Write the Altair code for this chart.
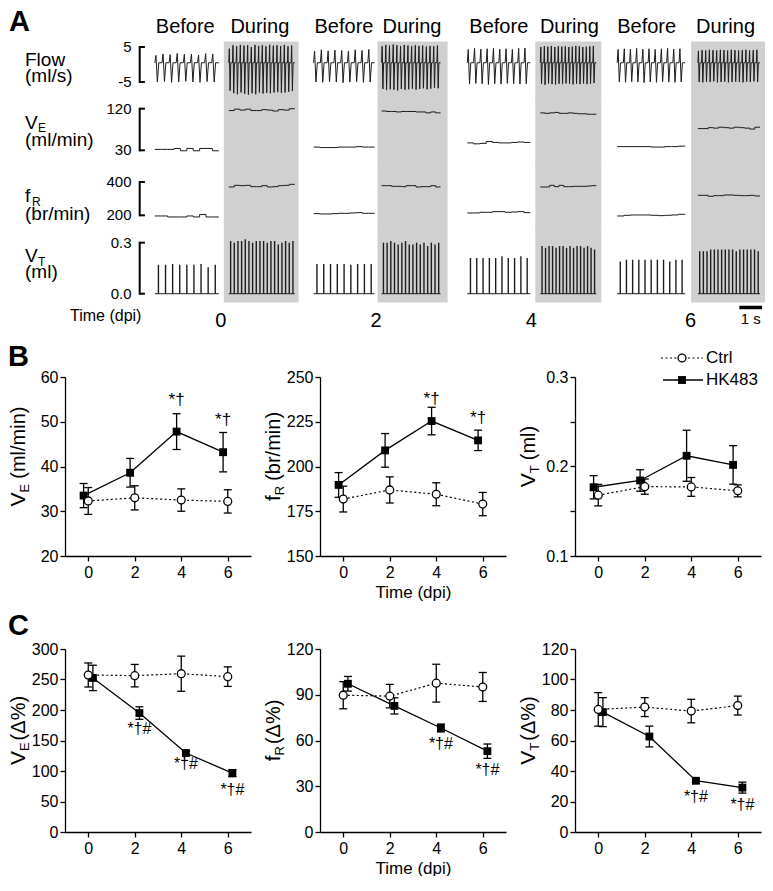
import altair as alt
import pandas as pd

FONT = "Liberation Sans"
GRAY = "#d0d0d0"
INK = "#1c1c1c"

# ------------------------------------------------------------------ panel A data
seg_label = ["Before", "During"] * 4
trace_start = [0.70, 3.96, 7.70, 10.70, 14.48, 17.70, 21.09, 24.65]   # s
trace_end = [3.52, 6.87, 10.39, 13.30, 17.26, 20.17, 24.09, 27.39]    # s
header_x = [2.04, 5.33, 9.04, 12.04, 15.87, 18.98, 22.39, 25.87]
gray_start = [3.74, 10.52, 17.48, 24.35]
gray_end = [7.04, 13.61, 20.39, 27.61]
day_labels = ["0", "2", "4", "6"]
day_x = [3.61, 10.46, 17.30, 24.33]
scalebar_s = [26.48, 27.48]

flow_peak = [
    [2.6, 3.0, 2.8, 3.2, 2.9, 3.0, 2.7, 3.1, 3.0],
    [4.5, 5.5, 5.2, 5.6, 5.4, 5.5, 5.0, 5.6, 5.3, 5.5, 5.2, 5.6, 5.4, 5.5, 5.3, 5.6, 5.2, 5.4],
    [3.8, 4.2, 3.9, 4.1, 4.0, 3.8, 4.2, 4.0, 4.3],
    [5.2, 5.6, 5.4, 5.7, 5.5, 5.3, 5.6, 5.4, 5.2, 5.5, 5.3, 5.4, 5.1, 5.3, 5.2, 5.4],
    [4.3, 4.6, 4.4, 4.5, 4.6, 4.4, 4.5, 4.3, 4.6, 4.7],
    [5.0, 5.2, 5.1, 5.3, 5.0, 5.2, 5.1, 5.2, 5.0, 5.1, 5.3, 5.2, 5.0, 5.1, 5.2, 5.3],
    [4.3, 4.5, 4.4, 4.6, 4.4, 4.5, 4.3, 4.5, 4.6, 4.4, 4.5],
    [3.9, 4.1, 4.0, 4.2, 4.1, 4.0, 4.2, 4.1, 4.0, 4.2, 4.1, 4.0, 4.1, 4.2, 4.0, 4.1, 4.2],
]
flow_trough = [
    [-5.0, -4.9, -5.1, -5.0, -4.8, -5.0, -5.1, -4.9, -5.0],
    [-7.5, -8.2, -8.5, -8.0, -8.4, -8.6, -8.2, -8.5, -8.0, -8.3, -8.1, -8.2, -8.0, -7.9, -8.1, -8.0, -7.8, -7.6],
    [-5.0, -5.1, -4.9, -5.0, -5.2, -5.0, -4.9, -5.1, -5.0],
    [-7.0, -7.3, -7.1, -7.2, -7.4, -7.0, -7.2, -7.1, -6.9, -7.2, -7.0, -6.8, -7.1, -6.9, -6.7, -6.8],
    [-5.6, -5.4, -5.5, -5.7, -5.5, -5.6, -5.4, -5.5, -5.6, -5.5],
    [-5.5, -5.8, -5.4, -5.6, -5.7, -5.5, -5.6, -5.4, -5.5, -5.7, -5.5, -5.6, -5.4, -5.6, -5.5, -5.3],
    [-5.0, -5.1, -4.9, -5.0, -5.2, -5.0, -5.1, -4.9, -5.0, -5.1, -5.0],
    [-5.0, -5.1, -4.9, -5.0, -4.8, -5.1, -5.0, -4.9, -5.1, -5.0, -4.9, -5.0, -5.1, -4.9, -5.0, -4.8, -5.0],
]
ve_steps = [
    [32, 32, 32, 34, 29, 34, 29, 34, 34, 29],
    [116, 119, 117, 119, 116, 116, 118, 117, 115, 118, 117, 120],
    [37, 36, 36, 36, 37, 37, 37, 38, 37, 37],
    [115, 114, 114, 113, 114, 114, 114, 113, 113, 111, 113, 111],
    [46, 44, 45, 49, 47, 46, 46, 47, 48, 47],
    [111, 110, 111, 112, 110, 110, 111, 110, 109, 109, 108, 108],
    [38, 38, 38, 38, 38, 37, 37, 38, 38, 39],
    [77, 77, 79, 78, 80, 79, 78, 80, 79, 78, 76, 80],
]
fr_steps = [
    [196, 196, 190, 190, 190, 196, 190, 205, 190, 190],
    [370, 380, 378, 380, 372, 372, 378, 370, 372, 378, 380, 386],
    [210, 208, 208, 210, 212, 212, 214, 216, 212, 212],
    [378, 378, 374, 374, 372, 378, 378, 370, 372, 372, 378, 370],
    [214, 214, 218, 218, 222, 222, 218, 220, 222, 216],
    [370, 370, 380, 372, 380, 372, 372, 374, 374, 374, 376, 378],
    [196, 200, 202, 202, 202, 200, 198, 200, 202, 206],
    [320, 320, 314, 318, 318, 322, 322, 320, 318, 318, 320, 316],
]
vt_peak = [
    [0.17, 0.17, 0.175, 0.17, 0.17, 0.17, 0.175, 0.155, 0.17],
    [0.31, 0.30, 0.31, 0.31, 0.32, 0.31, 0.30, 0.31, 0.31, 0.31, 0.30, 0.31, 0.31, 0.29, 0.30, 0.31, 0.30, 0.31],
    [0.175, 0.175, 0.175, 0.175, 0.175, 0.17, 0.175, 0.175, 0.175],
    [0.30, 0.30, 0.31, 0.30, 0.29, 0.30, 0.31, 0.29, 0.29, 0.30, 0.29, 0.30, 0.28, 0.30, 0.29, 0.30],
    [0.21, 0.21, 0.21, 0.21, 0.21, 0.22, 0.21, 0.21, 0.22, 0.21],
    [0.28, 0.27, 0.28, 0.28, 0.27, 0.28, 0.28, 0.27, 0.28, 0.27, 0.28, 0.28, 0.27, 0.28, 0.27, 0.26],
    [0.19, 0.20, 0.20, 0.20, 0.20, 0.20, 0.20, 0.20, 0.19, 0.20, 0.20],
    [0.25, 0.25, 0.25, 0.26, 0.26, 0.26, 0.26, 0.26, 0.26, 0.26, 0.25, 0.26, 0.26, 0.26, 0.26, 0.26, 0.25],
]
bracket_lo = [-5, 30, 200, 0.0]
bracket_hi = [5, 120, 400, 0.3]
bracket_lo_lab = ["-5", "30", "200", "0.0"]
bracket_hi_lab = ["5", "120", "400", "0.3"]
row_ydom = [[-9.86, 6.43], [-6.1, 141.0], [111.7, 490.1], [-0.0488, 0.3747]]

# ------------------------------------------------------------------ panels B / C data
dpi = [0, 2, 4, 6]
ve_ctrl, ve_ctrl_sem = [32.3, 33.0, 32.5, 32.2], [3.0, 2.7, 2.5, 2.6]
ve_hk, ve_hk_sem = [33.5, 38.6, 47.8, 43.2], [2.7, 3.2, 4.0, 4.4]
fr_ctrl, fr_ctrl_sem = [181.8, 186.9, 184.5, 179.0], [7.2, 7.3, 6.4, 6.5]
fr_hk, fr_hk_sem = [189.7, 209.0, 225.4, 214.6], [6.9, 9.4, 7.7, 5.7]
vt_ctrl, vt_ctrl_sem = [0.168, 0.1775, 0.1772, 0.1728], [0.012, 0.0085, 0.0105, 0.0067]
vt_hk, vt_hk_sem = [0.1768, 0.1844, 0.212, 0.2018], [0.013, 0.012, 0.0285, 0.0215]

vep_ctrl, vep_ctrl_sem = [257.4, 256.3, 259.5, 254.7], [19.7, 18.4, 28.8, 16.0]
vep_hk, vep_hk_sem = [252.6, 195.0, 129.5, 96.5], [20.8, 10.2, 3.5, 5.8]
frp_ctrl, frp_ctrl_sem = [89.7, 89.1, 97.6, 95.1], [8.9, 7.7, 12.4, 9.5]
frp_hk, frp_hk_sem = [97.2, 82.7, 68.2, 53.0], [4.8, 5.3, 2.6, 4.7]
vtp_ctrl, vtp_ctrl_sem = [80.4, 81.9, 79.3, 82.9], [11.0, 6.2, 7.7, 6.2]
vtp_hk, vtp_hk_sem = [78.6, 62.6, 33.6, 29.1], [9.5, 6.8, 1.5, 3.6]

# significance marks: (index into dpi, text, y position in data units)
ann_b1 = [(2, "*†", 53.7), (3, "*†", 49.2)]
ann_b2 = [(2, "*†", 234.9), (3, "*†", 224.1)]
ann_c1 = [(1, "*†#", 161.4), (2, "*†#", 103.0), (3, "*†#", 61.4)]
ann_c2 = [(2, "*†#", 54.3), (3, "*†#", 37.3)]
ann_c3 = [(2, "*†#", 19.5), (3, "*†#", 14.1)]

# ------------------------------------------------------------------ layout constants
WA = 700
XA_DOM = [-3.264, 27.61]
ROW_H = [57, 68, 63, 72]
W = 186
HB = 179
HC = 183
ONE = pd.DataFrame({"k": [0]})
NOVIEW = alt.ViewBackground(stroke="transparent", strokeWidth=0)

CW = {'V': .667, 'E': .667, 'f': .278, 'R': .722, 'T': .611, ' ': .278, '(': .333, ')': .333,
      'm': .833, 'l': .222, '/': .278, 'i': .222, 'n': .556, 'b': .556, 'r': .333,
      'Δ': .668, '%': .889}


def tw(s, fs):
    return sum(CW.get(c, .556) for c in s) * fs


def txt(text, x, y, size, align="left", baseline="alphabetic", **kw):
    return alt.Chart(ONE).mark_text(text=text, fontSize=size, font=FONT, color="black",
                                    align=align, baseline=baseline, **kw).encode(
        x=alt.value(x), y=alt.value(y))


xsA = alt.Scale(domain=XA_DOM, nice=False, zero=False)


def XA(f):
    return alt.X(f, scale=xsA, axis=None)


# ---- build trace tables
flow_rows, ve_rows, fr_rows, vt_rows, base_rows = [], [], [], [], []
for s in range(8):
    a, b = trace_start[s], trace_end[s]
    n = len(flow_peak[s])
    P = (b - a) / n
    flow_rows.append((s, a, 0.5))
    for i in range(n):
        t0 = a + i * P
        flow_rows += [(s, t0 + 0.15 * P, flow_peak[s][i]), (s, t0 + 0.35 * P, flow_trough[s][i]),
                      (s, t0 + 0.55 * P, 0.5), (s, t0 + P, 0.5)]
    for arr, out in ((ve_steps[s], ve_rows), (fr_steps[s], fr_rows)):
        m = len(arr)
        for i, v in enumerate(arr):
            out.append((s, a + i * (b - a) / m, v))
        out.append((s, b, arr[-1]))
    m = len(vt_peak[s])
    for i, v in enumerate(vt_peak[s]):
        vt_rows.append((s, a + (i + 0.5) * (b - a) / m, 0.0, v))
    base_rows.append((s, a, b, 0.0))

df_flow = pd.DataFrame(flow_rows, columns=["s", "t", "v"])
df_ve = pd.DataFrame(ve_rows, columns=["s", "t", "v"])
df_fr = pd.DataFrame(fr_rows, columns=["s", "t", "v"])
df_vt = pd.DataFrame(vt_rows, columns=["s", "t", "z", "v"])
df_base = pd.DataFrame(base_rows, columns=["s", "a", "b", "v"])
df_gray = pd.DataFrame({"gs": gray_start, "ge": gray_end})
df_head = pd.DataFrame({"x": header_x, "lab": seg_label})
df_day = pd.DataFrame({"x": day_x, "lab": day_labels})
df_bar = pd.DataFrame({"a": [scalebar_s[0]], "b": [scalebar_s[1]], "m": [(scalebar_s[0] + scalebar_s[1]) / 2]})

BRX, BRX2, BRL = 0.03, 0.26, -0.33


def row_chart(r, traces, labels, extra):
    h = ROW_H[r]
    ys = alt.Scale(domain=row_ydom[r], nice=False, zero=False)

    def Y(f):
        return alt.Y(f, scale=ys, axis=None)

    gray = alt.Chart(df_gray).mark_rect(color=GRAY).encode(
        x=XA("gs:Q"), x2="ge:Q", y=alt.value(-0.5), y2=alt.value(h + 0.5))
    br = pd.DataFrame({"x": [BRX], "lo": [bracket_lo[r]], "hi": [bracket_hi[r]]})
    vline = alt.Chart(br).mark_rule(color="black", strokeWidth=2, strokeCap="square").encode(
        x=XA("x:Q"), y=Y("lo:Q"), y2="hi:Q")
    brt = pd.DataFrame({"x": [BRX] * 2, "xt": [BRX2] * 2, "lx": [BRL] * 2,
                        "v": [bracket_lo[r], bracket_hi[r]],
                        "lab": [bracket_lo_lab[r], bracket_hi_lab[r]]})
    ticks = alt.Chart(brt).mark_rule(color="black", strokeWidth=2).encode(
        x=XA("x:Q"), x2="xt:Q", y=Y("v:Q"))
    labs = alt.Chart(brt).mark_text(align="right", baseline="middle", fontSize=15, font=FONT,
                                    color="black").encode(x=XA("lx:Q"), y=Y("v:Q"), text="lab:N")
    lab_layers = [txt(t, x, y, fs) for (t, fs, x, y) in labels]
    return alt.layer(gray, vline, ticks, labs, *traces(Y), *lab_layers, *extra).properties(
        width=WA, height=h, view=NOVIEW)


def flow_tr(Y):
    return [alt.Chart(df_flow).mark_line(color=INK, strokeWidth=1).encode(
        x=XA("t:Q"), y=Y("v:Q"), detail="s:N")]


def step_tr(df):
    def f(Y):
        return [alt.Chart(df).mark_line(color=INK, strokeWidth=1, interpolate="step-after").encode(
            x=XA("t:Q"), y=Y("v:Q"), detail="s:N")]
    return f


def vt_tr(Y):
    return [
        alt.Chart(df_base).mark_rule(color=INK, strokeWidth=1).encode(x=XA("a:Q"), x2="b:Q", y=Y("v:Q")),
        alt.Chart(df_vt).mark_rule(color=INK, strokeWidth=1.4).encode(x=XA("t:Q"), y=Y("z:Q"), y2="v:Q"),
    ]


top_extra = [
    txt("A", -56, -11, 29, fontWeight="bold"),
    alt.Chart(df_head).mark_text(fontSize=20, font=FONT, color="black", align="center",
                                 baseline="alphabetic").encode(x=XA("x:Q"), y=alt.value(-9), text="lab:N"),
]
hV = ROW_H[3]
bottom_extra = [
    alt.Chart(df_day).mark_text(fontSize=20, font=FONT, color="black", align="center",
                                baseline="alphabetic").encode(x=XA("x:Q"), y=alt.value(hV + 25), text="lab:N"),
    txt("Time (dpi)", 5, hV + 19, 16),
    alt.Chart(df_bar).mark_rule(color="black", strokeWidth=3.5).encode(
        x=XA("a:Q"), x2="b:Q", y=alt.value(hV + 5.5)),
    alt.Chart(df_bar).mark_text(text="1 s", fontSize=15, font=FONT, color="black", align="center",
                                baseline="alphabetic").encode(x=XA("m:Q"), y=alt.value(hV + 22)),
]

row_flow = row_chart(0, flow_tr, [("Flow", 19, -40, 24), ("(ml/s)", 19, -40, 40)], top_extra)
row_ve = row_chart(1, step_tr(df_ve), [("V", 19, -40, 30), ("E", 12, -27, 33), ("(ml/min)", 19, -40, 47)], [])
row_fr = row_chart(2, step_tr(df_fr), [("f", 19, -40, 35), ("R", 12, -33, 39), ("(br/min)", 19, -40, 53)], [])
row_vt = row_chart(3, vt_tr, [("V", 19, -40, 32), ("T", 12, -27, 35.5), ("(ml)", 19, -40, 48)], bottom_extra)

panelA = alt.vconcat(row_flow, row_ve, row_fr, row_vt, spacing=0, bounds="flush")

# ------------------------------------------------------------------ panels B / C
AX = dict(domainColor="black", tickColor="black", labelColor="black", labelFont=FONT,
          labelFontSize=16, domainWidth=1.3, tickWidth=1.3, tickSize=5, labelPadding=2, grid=False)


def ytitle(parts, h, x0=-40):
    # parts: (text, font size, baseline shift, gap before the part)
    total = sum(tw(t, fs) + g for t, fs, _, g in parts)
    start = h / 2 + total / 2 - 10
    out, cum = [], 0
    for t, fs, dx, g in parts:
        cum += g
        out.append(alt.Chart(ONE).mark_text(text=t, fontSize=fs, font=FONT, color="black", angle=270,
                                            align="left", baseline="alphabetic").encode(
            x=alt.value(x0 + dx), y=alt.value(start - cum)))
        cum += tw(t, fs)
    return out


def stat_chart(h, ydom, yvals, yfmt, ctrl, ctrl_sem, hk, hk_sem, hk_dx, ann, tparts, xtitle,
               extra=(), label_expr=None):
    rows = []
    for i, d in enumerate(dpi):
        rows.append(("Ctrl", d, ctrl[i], ctrl[i] - ctrl_sem[i], ctrl[i] + ctrl_sem[i]))
        rows.append(("HK483", d + hk_dx, hk[i], hk[i] - hk_sem[i], hk[i] + hk_sem[i]))
    df = pd.DataFrame(rows, columns=["g", "x", "m", "lo", "hi"])
    caps = pd.concat([df[["g", "x"]].assign(v=df["lo"]), df[["g", "x"]].assign(v=df["hi"])])
    dfa = pd.DataFrame({"x": [dpi[i] + hk_dx for i, _, _ in ann], "y": [y for _, _, y in ann],
                        "t": [t for _, t, _ in ann]})

    yax = dict(AX, values=yvals, format=yfmt, title=None)
    if label_expr:
        yax["labelExpr"] = label_expr
    xax = dict(AX, values=dpi, title=xtitle if xtitle else None, titleFont=FONT, titleFontSize=17,
               titleFontWeight="normal", titleColor="black", titlePadding=4, labelPadding=3)
    xs = alt.Scale(domain=[-1, 7], nice=False, zero=False)
    ys = alt.Scale(domain=ydom, nice=False, zero=False)
    X = alt.X("x:Q", scale=xs, axis=alt.Axis(**xax))

    def Y(f):
        return alt.Y(f, scale=ys, axis=alt.Axis(**yax))

    ctrl_line = alt.Chart(df[df.g == "Ctrl"]).mark_line(color="black", strokeWidth=1.2,
                                                        strokeDash=[2, 2.5]).encode(x=X, y=Y("m:Q"))
    hk_line = alt.Chart(df[df.g == "HK483"]).mark_line(color="black", strokeWidth=1.3).encode(x=X, y=Y("m:Q"))
    err = alt.Chart(df).mark_rule(color="black", strokeWidth=1.3).encode(x=X, y=Y("lo:Q"), y2="hi:Q")
    cap = alt.Chart(caps).mark_tick(orient="horizontal", size=8, thickness=1.3, color="black",
                                    opacity=1).encode(x=X, y=Y("v:Q"))
    sq = alt.Chart(df[df.g == "HK483"]).mark_square(size=62, color="black", opacity=1).encode(x=X, y=Y("m:Q"))
    ci = alt.Chart(df[df.g == "Ctrl"]).mark_point(shape="circle", size=62, filled=True, fill="white",
                                                  stroke="black", strokeWidth=1.3, opacity=1).encode(
        x=X, y=Y("m:Q"))
    layers = [ctrl_line, hk_line, err, cap, sq, ci]
    if len(dfa):
        fs = 17 if len(dfa["t"].iloc[0]) == 2 else 16
        layers.append(alt.Chart(dfa).mark_text(fontSize=fs, font=FONT, color="black", align="center",
                                               baseline="alphabetic").encode(x=X, y=Y("y:Q"), text="t:N"))
    layers += ytitle(tparts, h)
    layers += list(extra)
    return alt.layer(*layers).properties(width=W, height=h, view=NOVIEW)


legend = [
    alt.Chart(ONE).mark_rule(color="black", strokeWidth=1.2, strokeDash=[2, 2.5]).encode(
        x=alt.value(86), x2=alt.value(128), y=alt.value(-19)),
    alt.Chart(ONE).mark_point(shape="circle", size=62, filled=True, fill="white", stroke="black",
                              strokeWidth=1.3, opacity=1).encode(x=alt.value(107), y=alt.value(-19)),
    txt("Ctrl", 131, -19, 17, baseline="middle"),
    alt.Chart(ONE).mark_rule(color="black", strokeWidth=1.3).encode(
        x=alt.value(88), x2=alt.value(128), y=alt.value(3)),
    alt.Chart(ONE).mark_square(size=62, color="black", opacity=1).encode(x=alt.value(107), y=alt.value(3)),
    txt("HK483", 131, 3, 17, baseline="middle"),
]

b1 = stat_chart(HB, [20, 60], [20, 30, 40, 50, 60], "d", ve_ctrl, ve_ctrl_sem, ve_hk, ve_hk_sem, -0.2,
                ann_b1, [("V", 21, 0, 0), ("E", 13, 4, 0), ("(ml/min)", 20, 0, 5)], None,
                extra=[txt("B", -57, -11, 29, fontWeight="bold")])
b2 = stat_chart(HB, [150, 250], [150, 175, 200, 225, 250], "d", fr_ctrl, fr_ctrl_sem, fr_hk, fr_hk_sem, -0.2,
                ann_b2, [("f", 21, 0, 0), ("R", 13, 4, 0), ("(br/min)", 20, 0, 5)], "Time (dpi)")
b3 = stat_chart(HB, [0.1, 0.3], [0.1, 0.15, 0.2, 0.25, 0.3], ".1f", vt_ctrl, vt_ctrl_sem, vt_hk, vt_hk_sem,
                -0.2, [], [("V", 21, 0, 0), ("T", 13, 4, 0), ("(ml)", 20, 0, 5)], None, extra=legend,
                label_expr="(abs(datum.value - 0.15) < 0.001 || abs(datum.value - 0.25) < 0.001) ? '' : format(datum.value, '.1f')")

c1 = stat_chart(HC, [0, 300], [0, 50, 100, 150, 200, 250, 300], "d", vep_ctrl, vep_ctrl_sem, vep_hk,
                vep_hk_sem, 0.2, ann_c1, [("V", 21, 0, 0), ("E", 13, 4, 0), ("(Δ%)", 20, 0, 2)], None,
                extra=[txt("C", -57, -14, 29, fontWeight="bold")])
c2 = stat_chart(HC, [0, 120], [0, 30, 60, 90, 120], "d", frp_ctrl, frp_ctrl_sem, frp_hk, frp_hk_sem, 0.2,
                ann_c2, [("f", 21, 0, 0), ("R", 13, 4, 0), ("(Δ%)", 20, 0, 2)], "Time (dpi)")
c3 = stat_chart(HC, [0, 120], [0, 20, 40, 60, 80, 100, 120], "d", vtp_ctrl, vtp_ctrl_sem, vtp_hk,
                vtp_hk_sem, 0.2, ann_c3, [("V", 21, 0, 0), ("T", 13, 4, 0), ("(Δ%)", 20, 0, 2)], None)

rowB = alt.hconcat(b1, b2, b3, spacing=69, bounds="flush")
rowC = alt.hconcat(c1, c2, c3, spacing=69, bounds="flush")
chart = (
    alt.vconcat(panelA, rowB, rowC, spacing=12)
    .properties(padding=0)
    .configure(font=FONT)
    .configure_view(strokeWidth=0, stroke="transparent")
)

chart.save("out.html", embed_options={"renderer": "svg", "actions": False})
